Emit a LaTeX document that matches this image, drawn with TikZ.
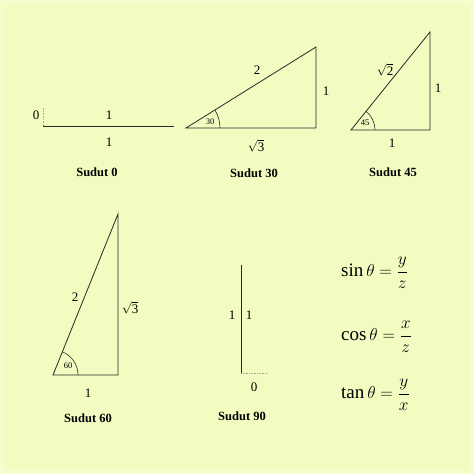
\documentclass[tikz,border=0pt]{standalone}
\usepackage{amsmath}
\usepackage{fontspec}
\setmainfont{Liberation Serif}
\usetikzlibrary{positioning,calc}
\definecolor{bgpaper}{RGB}{240,252,192}
\definecolor{bgedge}{RGB}{244,253,206}
\definecolor{inkline}{RGB}{40,40,40}
\tikzset{
  side/.style={draw=inkline, line width=0.8pt, line join=miter},
  dotline/.style={draw=gray!70, line width=0.6pt, densely dotted},
  lab/.style={font=\fontsize{13}{15}\selectfont, inner sep=0pt},
  anglab/.style={font=\fontsize{8.5}{10}\selectfont, inner sep=0pt},
  title/.style={font=\fontsize{12.5}{14}\selectfont\bfseries, inner sep=0pt},
  formula/.style={font=\fontsize{19}{22}\selectfont, anchor=west, inner sep=0pt}
}
\newcommand{\rt}[1]{$\sqrt{\mbox{#1}}$}
\begin{document}
\begin{tikzpicture}[x=1pt,y=1pt]
  \fill[bgedge] (0,0) rectangle (474,474);
  \fill[bgpaper] (4,4) rectangle (470,470);
  \useasboundingbox (0,0) rectangle (474,474);
% Sudut 0
\draw[dotline](43,348)--(43,367);
\draw[side](43,348)--(174,348);
\node[lab] (z0) at (36,359) {0};
\node[lab] (z1) at (109,359) {1};
\node[lab] (z2) at (109,332) {1};
\node[title] (t0) at (97,302) {Sudut 0};
% Sudut 30
\coordinate (a30) at (186,346);
\coordinate (c30) at (316,346);
\coordinate (b30) at (316,427);
\draw[side](a30)--(c30)--(b30)--cycle;
\draw[side,line width=0.6pt]($(a30)+(34,0)$) arc (0:31.9:34);
\node[lab] (h30) at (257,404) {2};
\node[lab] (o30) at (326,383) {1};
\node[lab] (d30) at (256,328) {\rt{3}};
\node[anglab] (g30) at (210,352) {30};
\node[title] (t30) at (254,301) {Sudut 30};
% Sudut 45
\coordinate (a45) at (351,344);
\coordinate (c45) at (430,344);
\coordinate (b45) at (430,442);
\draw[side](a45)--(c45)--(b45)--cycle;
\draw[side,line width=0.6pt]($(a45)+(24,0)$) arc (0:51.1:24);
\node[lab] (h45) at (385,404) {\rt{2}};
\node[lab] (o45) at (438,386) {1};
\node[lab] (d45) at (392,331) {1};
\node[anglab] (g45) at (365,351) {45};
\node[title] (t45) at (393,302) {Sudut 45};
% Sudut 60
\coordinate (a60) at (53,99);
\coordinate (c60) at (118,99);
\coordinate (b60) at (118,260);
\draw[side](a60)--(c60)--(b60)--cycle;
\draw[side,line width=0.6pt]($(a60)+(25,0)$) arc (0:68:25);
\node[lab] (h60) at (75,177) {2};
\node[lab] (o60) at (130,166) {\rt{3}};
\node[lab] (d60) at (88,81) {1};
\node[anglab] (g60) at (68,108) {60};
\node[title] (t60) at (88,56) {Sudut 60};
% Sudut 90
\draw[dotline](241,101)--(268,101);
\draw[side](241,209)--(241,101);
\node[lab] (l90) at (232,159) {1};
\node[lab] (r90) at (249,159) {1};
\node[lab] (z90) at (254,87) {0};
\node[title] (t90) at (242,58) {Sudut 90};
% rumus
\node[formula] (fsin) at (341,201) {$\sin\theta=\dfrac{y}{z}$};
\node[formula] (fcos) at (341,137) {$\cos\theta=\dfrac{x}{z}$};
\node[formula] (ftan) at (341,79) {$\tan\theta=\dfrac{y}{x}$};
\end{tikzpicture}
\end{document}
